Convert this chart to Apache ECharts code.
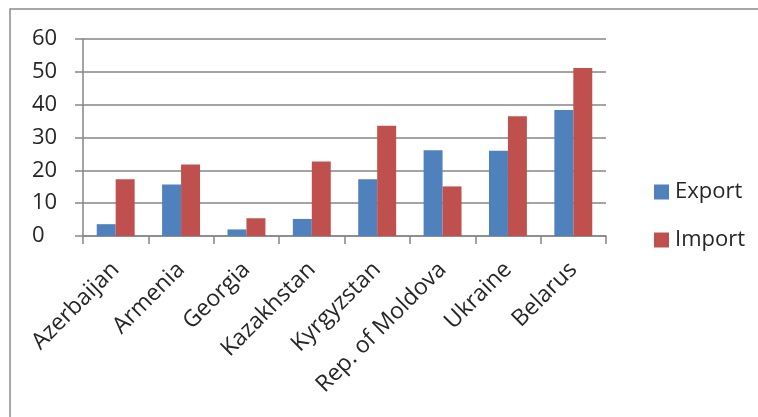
<!DOCTYPE html>
<html>
<head>
<meta charset="utf-8">
<script src="https://cdn.jsdelivr.net/npm/echarts@6/dist/echarts.min.js"></script>
<style>
  html, body { margin: 0; padding: 0; background: #fff; }
  #chart { width: 758px; height: 417px; }
</style>
</head>
<body>
<div id="chart"></div>
<script>
// Trade shares by country, percent
const countries = ['Azerbaijan', 'Armenia', 'Georgia', 'Kazakhstan', 'Kyrgyzstan', 'Rep. of Moldova', 'Ukraine', 'Belarus'];
const exportValues = [3.6, 15.7, 2.0, 5.2, 17.3, 26.1, 26.0, 38.4];
const importValues = [17.3, 21.8, 5.4, 22.7, 33.6, 15.1, 36.5, 51.2];
const yTicks = { min: 0, max: 60, interval: 10 };

const textColor = '#262626';
const lineColor = '#868686';
const fontFamily = '"Open Sans", "Liberation Sans", sans-serif';

const chart = echarts.init(document.getElementById('chart'), null, { renderer: 'canvas' });
chart.setOption({
  animation: false,
  backgroundColor: '#fff',
  textStyle: { fontFamily: fontFamily, color: textColor },
  graphic: [{
    type: 'rect',
    shape: { x: 10, y: 9, width: 800, height: 450 },
    style: { fill: 'none', stroke: '#8a8a8a', lineWidth: 1.5 },
    silent: true
  }],
  grid: { left: 83, right: 152, top: 39, bottom: 181, containLabel: false },
  legend: {
    orient: 'vertical',
    left: 649,
    top: 176,
    itemWidth: 15,
    itemHeight: 15,
    itemGap: 26,
    icon: 'rect',
    textStyle: { fontFamily: fontFamily, fontSize: 22, color: textColor, padding: [0, 0, 0, 1] },
    data: ['Export', 'Import']
  },
  xAxis: {
    type: 'category',
    data: countries,
    boundaryGap: true,
    axisLine: { show: true, lineStyle: { color: lineColor, width: 1.5 } },
    axisTick: { show: true, length: 8, inside: false, lineStyle: { color: lineColor, width: 1.5 } },
    axisLabel: {
      interval: 0,
      rotate: 45,
      margin: 30,
      fontFamily: fontFamily,
      fontSize: 23,
      color: textColor
    }
  },
  yAxis: {
    type: 'value',
    min: yTicks.min,
    max: yTicks.max,
    interval: yTicks.interval,
    axisLine: { show: true, lineStyle: { color: lineColor, width: 1.5 } },
    axisTick: { show: true, length: 8, lineStyle: { color: lineColor, width: 1.5 } },
    // tick labels share a common left edge
    axisLabel: { margin: 51, align: 'left', fontFamily: fontFamily, fontSize: 22, color: textColor },
    splitLine: { show: true, lineStyle: { color: lineColor, width: 1.5 } }
  },
  series: [
    {
      name: 'Export',
      type: 'bar',
      data: exportValues,
      barGap: '0%',
      barCategoryGap: '42%',
      itemStyle: { color: '#4F81BD' }
    },
    {
      name: 'Import',
      type: 'bar',
      data: importValues,
      barGap: '0%',
      barCategoryGap: '42%',
      itemStyle: { color: '#C0504D' }
    }
  ]
});
</script>
</body>
</html>
